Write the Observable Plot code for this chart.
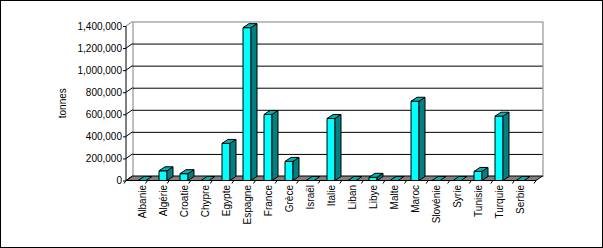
<!DOCTYPE html>
<html>
<head>
<meta charset="utf-8">
<script src="https://cdn.jsdelivr.net/npm/d3@7"></script>
<script src="https://cdn.jsdelivr.net/npm/@observablehq/plot@0.6"></script>
<style>
  html, body { margin: 0; padding: 0; background: #fff; }
  svg { display: block; outline: 1px solid #000; outline-offset: -1px; }
</style>
</head>
<body>
<div id="chart"></div>
<script>
const categories = ["Albanie", "Algérie", "Croatie", "Chypre", "Egypte", "Espagne", "France", "Grèce", "Israël", "Italie", "Liban", "Libye", "Malte", "Maroc", "Slovénie", "Syrie", "Tunisie", "Turquie", "Serbie"];
const values = [0, 88000, 62000, 0, 336000, 1385000, 598000, 173000, 0, 562000, 0, 29000, 0, 718000, 0, 0, 82000, 583000, 0];
const yTicks = [0, 200000, 400000, 600000, 800000, 1000000, 1200000, 1400000];
const yTitle = "tonnes";

const data = categories.map((c, i) => ({country: c, value: values[i]}));

const DX = 6, DY = 4;      // bar depth offset
const WX = 6.5, WY = 4.5;  // back wall offset
const NS = "http://www.w3.org/2000/svg";
function el(tag, attrs) {
  const e = document.createElementNS(NS, tag);
  for (const k in attrs) e.setAttribute(k, attrs[k]);
  return e;
}

const chart = Plot.plot({
  width: 603,
  height: 248,
  marginLeft: 126,
  marginRight: 67,
  marginTop: 26,
  marginBottom: 67.5,
  style: {fontFamily: "'Liberation Sans', Arial, sans-serif", fontSize: "10px", color: "#000", background: "#fff"},
  x: {domain: categories, paddingInner: 0.6, paddingOuter: 0.3, label: null},
  y: {domain: [0, 1400000], label: null},
  marks: [
    // back wall border
    Plot.frame({stroke: "#808080", dx: WX, dy: -WY}),
    // gridlines on back wall
    Plot.ruleY(yTicks.filter(t => t > 0 && t < 1400000), {stroke: "#000", dx: WX, dy: -WY}),
    // floor, connectors, front axis line, separators
    Plot.ruleY([0], {
      stroke: "none",
      render(index, scales, vals, dims, context, next) {
        const g = el("g", {});
        const y0 = scales.y(0);
        const x0 = dims.marginLeft, x1 = dims.width - dims.marginRight;
        g.appendChild(el("path", {
          d: `M${x0},${y0}L${x1},${y0}L${x1 + WX},${y0 - WY}L${x0 + WX},${y0 - WY}Z`,
          fill: "#808080", stroke: "#000", "stroke-width": 1
        }));
        for (const t of yTicks) {
          const y = scales.y(t);
          g.appendChild(el("line", {x1: x0, y1: y, x2: x0 + WX, y2: y - WY, stroke: t === 1400000 ? "#808080" : "#000"}));
        }
        g.appendChild(el("line", {x1: x0, y1: scales.y(1400000), x2: x0, y2: y0, stroke: "#000"}));
        const n = categories.length;
        const step = (x1 - x0) / n;
        for (let i = 0; i <= n; i++) {
          const bx = x0 + i * step;
          g.appendChild(el("line", {x1: bx, y1: y0, x2: bx - 2, y2: y0 + 3, stroke: "#000"}));
        }
        return g;
      }
    }),
    // 3D bars
    Plot.barY(data, {
      x: "country",
      y: "value",
      fill: "#00FFFF",
      stroke: "#000",
      render(index, scales, vals, dims, context, next) {
        const g = el("g", {});
        const sx = scales.x, sy = scales.y;
        const w = typeof sx.bandwidth === "function" ? sx.bandwidth() : 8.6;
        const b = sy(0);
        data.forEach(d => {
          const x = sx(d.country), y = sy(d.value);
          if (b - y > 0.5) {
            g.appendChild(el("path", {
              d: `M${x},${y}L${x + w},${y}L${x + w},${b}L${x},${b}Z`,
              fill: "#00FFFF", stroke: "#000"
            }));
            g.appendChild(el("path", {
              d: `M${x + w},${y}L${x + w + DX},${y - DY}L${x + w + DX},${b - DY}L${x + w},${b}Z`,
              fill: "#008080", stroke: "#000"
            }));
          }
          g.appendChild(el("path", {
            d: `M${x},${y}L${x + DX},${y - DY}L${x + w + DX},${y - DY}L${x + w},${y}Z`,
            fill: "#00B2B2", stroke: "#000"
          }));
        });
        return g;
      }
    }),
    Plot.axisY({ticks: yTicks, tickFormat: d3.format(","), tickSize: 3, tickPadding: 1.5, fontSize: 10, label: null}),
    Plot.axisX({tickSize: 0, tickRotate: -90, tickPadding: 4, fontSize: 10, label: null}),
    // y-axis title, centred on the frame's vertical middle
    Plot.text([yTitle], {
      frameAnchor: "left",
      render(index, scales, vals, dims) {
        const g = el("g", {});
        const cx = dims.marginLeft - 60;
        const cy = (dims.marginTop + dims.height - dims.marginBottom) / 2;
        const t = el("text", {
          transform: `translate(${cx},${cy}) rotate(-90)`,
          "text-anchor": "middle",
          "font-size": 10,
          fill: "#000"
        });
        t.textContent = yTitle;
        g.appendChild(t);
        return g;
      }
    })
  ]
});
document.getElementById("chart").appendChild(chart);
</script>
</body>
</html>
